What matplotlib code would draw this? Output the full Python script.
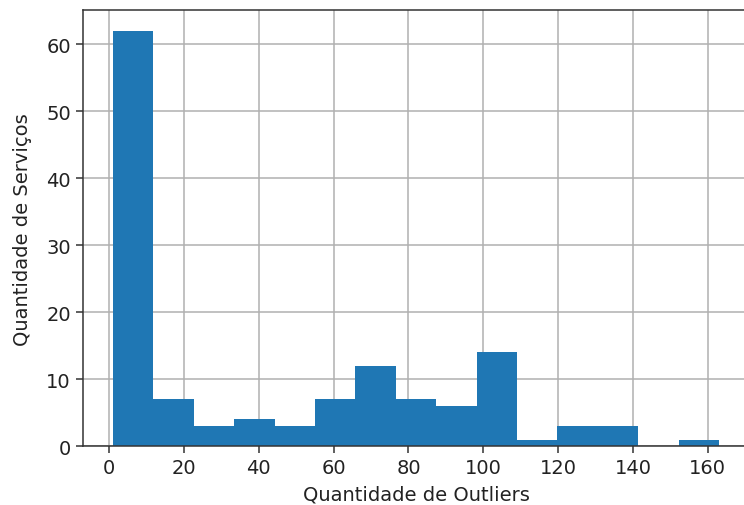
import matplotlib
matplotlib.use("Agg")
import matplotlib.pyplot as plt
import numpy as np

bin_edges = np.linspace(1, 163, 16)
counts = [62, 7, 3, 4, 3, 7, 12, 7, 6, 14, 1, 3, 3, 0, 1]

fig = plt.figure(figsize=(7.44, 5.06), dpi=100)
ax = fig.add_axes([82.7 / 744, 1 - 447.3 / 506, 666.5 / 744, (447.3 - 11) / 506])
ax.hist(bin_edges[:-1], bins=bin_edges, weights=counts, color="#1f77b4")
ax.grid(True, color="#b0b0b0", linewidth=1.1)
ax.set_axisbelow(True)
for s in ax.spines.values():
    s.set_linewidth(1.1)
    s.set_color("#333333")
ax.set_xlabel("Quantidade de Outliers", fontsize=14, labelpad=5, color="#222222")
ax.set_ylabel("Quantidade de Serviços", fontsize=14, labelpad=10, color="#222222")
ax.tick_params(labelsize=14, length=5, width=1.1, color="#333333", labelcolor="#222222")
fig.savefig("out.png", dpi=100)
